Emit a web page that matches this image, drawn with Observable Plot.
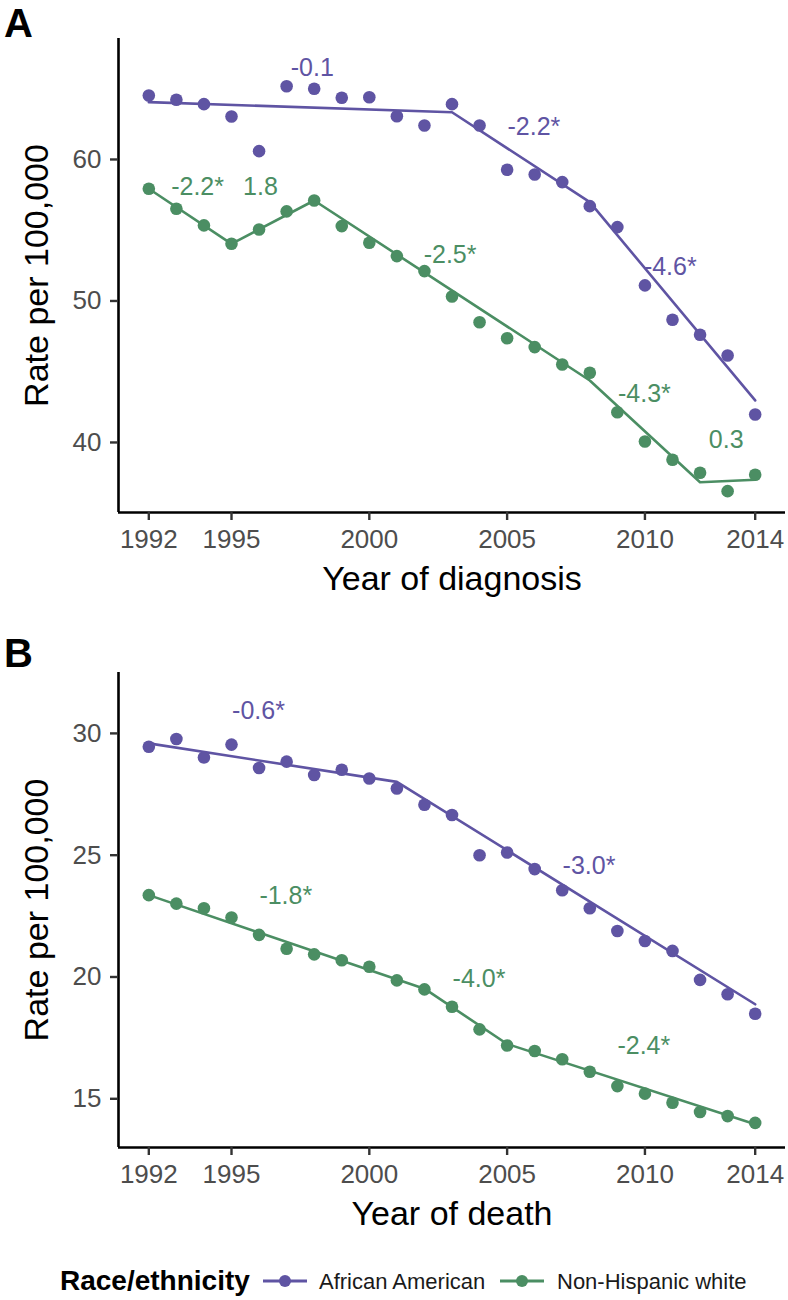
<!DOCTYPE html>
<html>
<head>
<meta charset="utf-8">
<script src="https://cdn.jsdelivr.net/npm/d3@7"></script>
<script src="https://cdn.jsdelivr.net/npm/@observablehq/plot@0.6"></script>
<style>
  html, body { margin: 0; padding: 0; background: #fff; }
  #root { position: relative; width: 788px; height: 1300px; overflow: hidden; font-family: "Liberation Sans", Arial, sans-serif; }
  #root > svg, #root > figure { position: absolute; left: 0; margin: 0; }
</style>
</head>
<body>
<div id="root"></div>
<script>
// ---------- data ----------
const years = [1992,1993,1994,1995,1996,1997,1998,1999,2000,2001,2002,2003,2004,2005,2006,2007,2008,2009,2010,2011,2012,2013,2014];
const groups = ["African American", "Non-Hispanic white"];
const colors = ["#5f54a3", "#4b8e63"];
const xTicks = [1992, 1995, 2000, 2005, 2010, 2014];

// Panel A: incidence
const incAA  = [64.52,64.22,63.91,63.04,60.59,65.18,65.00,64.36,64.40,63.06,62.40,63.91,62.40,59.27,58.94,58.40,56.70,55.22,51.10,48.67,47.61,46.15,41.98];
const incNHW = [57.93,56.52,55.34,54.04,55.05,56.33,57.10,55.29,54.11,53.17,52.11,50.32,48.50,47.37,46.74,45.51,44.93,42.14,40.07,38.78,37.86,36.56,37.72];
const incAAFitYears  = [1992, 2003, 2008, 2014];
const incAAFit       = [64.05, 63.34, 56.98, 42.97];
const incNHWFitYears = [1992, 1995, 1998, 2008, 2012, 2014];
const incNHWFit      = [57.93, 54.04, 57.10, 44.38, 37.19, 37.36];
const incLabelText   = ["-0.1", "-2.2*", "-4.6*", "-2.2*", "1.8", "-2.5*", "-4.3*", "0.3"];
const incLabelX      = [1997.93, 2005.97, 2010.92, 1993.77, 1996.05, 2002.93, 2009.98, 2012.95];
const incLabelY      = [66.43, 62.26, 52.37, 58.02, 58.02, 53.22, 43.46, 40.14];
const incLabelGroup  = [0, 0, 0, 1, 1, 1, 1, 1];
const incYTicks = [40, 50, 60];

// Panel B: mortality
const mortAA  = [29.45,29.77,29.01,29.54,28.58,28.84,28.29,28.51,28.15,27.74,27.07,26.65,25.00,25.11,24.43,23.56,22.82,21.89,21.48,21.07,19.88,19.29,18.49];
const mortNHW = [23.36,23.01,22.82,22.44,21.73,21.16,20.93,20.69,20.42,19.86,19.49,18.78,17.85,17.19,16.96,16.62,16.11,15.52,15.21,14.84,14.46,14.29,14.01];
const mortAAFitYears  = [1992, 2001, 2014];
const mortAAFit       = [29.59, 28.01, 18.88];
const mortNHWFitYears = [1992, 2002, 2005, 2014];
const mortNHWFit      = [23.36, 19.52, 17.25, 13.95];
const mortLabelText   = ["-0.6*", "-3.0*", "-1.8*", "-4.0*", "-2.4*"];
const mortLabelX      = [1995.98, 2007.97, 1996.97, 2003.98, 2009.96];
const mortLabelY      = [30.90, 24.56, 23.33, 19.91, 17.16];
const mortLabelGroup  = [0, 0, 1, 1, 1];
const mortYTicks = [15, 20, 25, 30];

const xDomain = [1990.9, 2015.1];

// ---------- helpers ----------
function seriesRows(aa, nhw) {
  return years.map((y, i) => ({year: y, rate: aa[i], group: groups[0]}))
    .concat(years.map((y, i) => ({year: y, rate: nhw[i], group: groups[1]})));
}
function fitRows(ax, ay, nx, ny) {
  return ax.map((y, i) => ({year: y, rate: ay[i], group: groups[0]}))
    .concat(nx.map((y, i) => ({year: y, rate: ny[i], group: groups[1]})));
}
function labelRows(t, x, y, g) {
  return t.map((s, i) => ({text: s, year: x[i], rate: y[i], group: groups[g[i]]}));
}

function panel(o) {
  const svg = Plot.plot({
    width: 788,
    height: o.height,
    marginTop: o.marginTop,
    marginBottom: o.marginBottom,
    marginLeft: 118,
    marginRight: 3,
    style: {fontFamily: "'Liberation Sans', Arial, sans-serif", background: "transparent", overflow: "visible"},
    x: {domain: xDomain},
    y: {domain: o.yDomain},
    color: {domain: groups, range: colors},
    marks: [
      Plot.ruleX([xDomain[0]], {stroke: "#000", strokeWidth: 2.6}),
      Plot.ruleY([o.yDomain[0]], {stroke: "#000", strokeWidth: 2.6}),
      Plot.axisX({ticks: xTicks, tickFormat: d => String(d), tickSize: 8, tickPadding: 9, fontSize: 26,
                  fill: "#4d4d4d", stroke: "#333", strokeWidth: 2.4, label: null}),
      Plot.axisY({ticks: o.yTicks, tickFormat: d => String(d), tickSize: 8, tickPadding: 9, fontSize: 26,
                  fill: "#4d4d4d", stroke: "#333", strokeWidth: 2.4, label: null}),
      Plot.line(o.fit, {x: "year", y: "rate", z: "group", stroke: "group", strokeWidth: 2.6}),
      Plot.dot(o.points, {x: "year", y: "rate", fill: "group", r: 6.3}),
      Plot.text(o.labels, {x: "year", y: "rate", text: "text", fill: "group", fontSize: 25}),
      Plot.text([o.xTitle], {text: d => d, frameAnchor: "bottom", textAnchor: "middle", lineAnchor: "middle",
                             dy: 67, fontSize: 34, fill: "#000"}),
      Plot.text(["Rate per 100,000"], {text: d => d, frameAnchor: "left", textAnchor: "middle", lineAnchor: "middle",
                             rotate: -90, dx: -81, fontSize: 34, fill: "#000"}),
      Plot.text([o.letter], {text: d => d, frameAnchor: "top-left", textAnchor: "middle", lineAnchor: "middle",
                             dx: -100, dy: o.letterDy, fontSize: 40, fontWeight: "bold", fill: "#000"})
    ]
  });
  svg.style.top = o.top + "px";
  return svg;
}

const root = document.getElementById("root");

root.appendChild(panel({
  top: 0, height: 620, marginTop: 38, marginBottom: 108,
  yDomain: [35.05, 68.55], yTicks: incYTicks,
  points: seriesRows(incAA, incNHW),
  fit: fitRows(incAAFitYears, incAAFit, incNHWFitYears, incNHWFit),
  labels: labelRows(incLabelText, incLabelX, incLabelY, incLabelGroup),
  xTitle: "Year of diagnosis", letter: "A", letterDy: -14
}));

root.appendChild(panel({
  top: 620, height: 660, marginTop: 52, marginBottom: 133,
  yDomain: [13.0, 32.5], yTicks: mortYTicks,
  points: seriesRows(mortAA, mortNHW),
  fit: fitRows(mortAAFitYears, mortAAFit, mortNHWFitYears, mortNHWFit),
  labels: labelRows(mortLabelText, mortLabelX, mortLabelY, mortLabelGroup),
  xTitle: "Year of death", letter: "B", letterDy: -18
}));

// ---------- legend ----------
const ns = "http://www.w3.org/2000/svg";
const leg = document.createElementNS(ns, "svg");
leg.setAttribute("width", 788);
leg.setAttribute("height", 40);
leg.style.top = "1260px";
leg.style.fontFamily = "'Liberation Sans', Arial, sans-serif";
function el(tag, attrs, txt) {
  const e = document.createElementNS(ns, tag);
  for (const k in attrs) e.setAttribute(k, attrs[k]);
  if (txt != null) e.textContent = txt;
  leg.appendChild(e);
  return e;
}
el("text", {x: 60, y: 30, "font-size": 28, "font-weight": "bold", fill: "#000"}, "Race/ethnicity");
const keyX = [263, 500];
const textX = [319, 557];
groups.forEach((g, i) => {
  el("line", {x1: keyX[i], x2: keyX[i] + 44, y1: 21, y2: 21, stroke: colors[i], "stroke-width": 3});
  el("circle", {cx: keyX[i] + 22, cy: 21, r: 6, fill: colors[i]});
  el("text", {x: textX[i], y: 29, "font-size": 22, fill: "#1a1a1a"}, g);
});
root.appendChild(leg);
</script>
</body>
</html>
